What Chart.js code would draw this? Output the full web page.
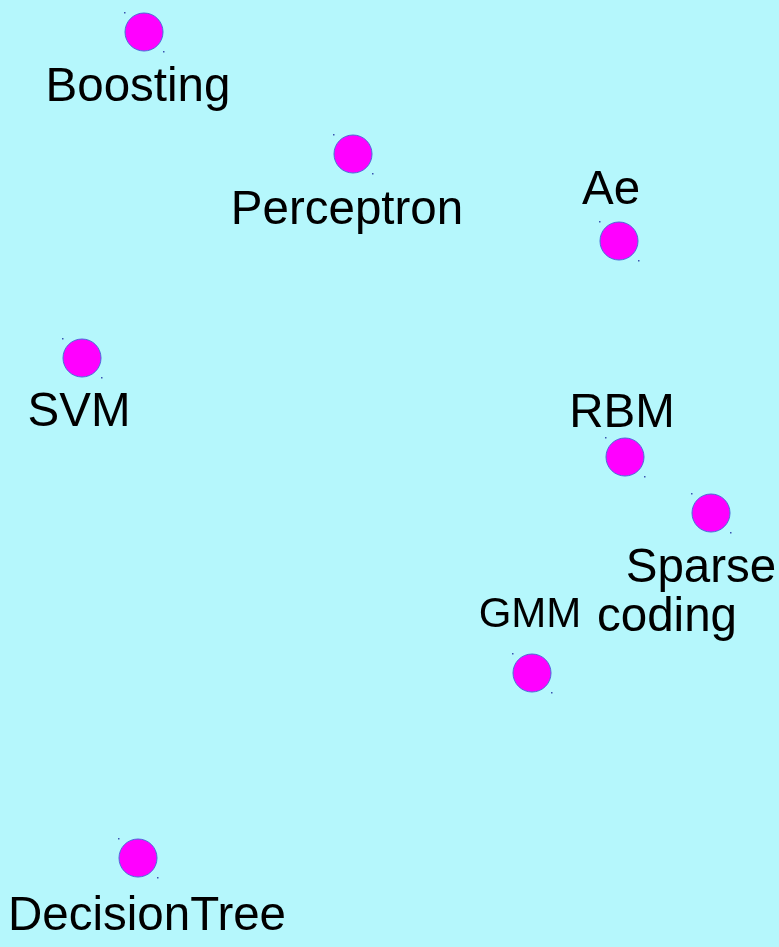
<!DOCTYPE html>
<html>
<head>
<meta charset="utf-8">
<script src="https://cdn.jsdelivr.net/npm/chart.js@4"></script>
<style>
  html, body { margin: 0; padding: 0; background: #b5f7fc; }
  #wrap { width: 779px; height: 947px; position: relative; }
</style>
</head>
<body>
<div id="wrap"><canvas id="scatterChart"></canvas></div>
<script>
// method names and their positions on the map
const methods = ["Boosting", "Perceptron", "Ae", "SVM", "RBM", "Sparse\ncoding", "GMM", "DecisionTree"];
const xValues = [144, 353, 619, 82, 625, 711, 532, 138];
const yValues = [32, 154, 241, 358, 457, 513, 673, 858];

// where each label sits relative to its dot (line dx, baseline dy)
const labelOffsets = [
    [-6, 69], [-6, 70], [-8, -37], [-3, 68], [-3, -30], [-10, 69], [-2, -46], [9, 72]
];
const labelSizes = [47.5, 47.5, 47.5, 47.5, 47.5, 47.5, 42, 47.5];

const points = xValues.map(function (x, i) {
    return { x: x, y: yValues[i] };
});

const labelPlugin = {
    id: "pointLabels",
    afterDatasetsDraw: function (chart) {
        const ctx = chart.ctx;
        const xs = chart.scales.x;
        const ys = chart.scales.y;
        ctx.save();
        ctx.textAlign = "center";
        ctx.textBaseline = "alphabetic";
        methods.forEach(function (name, i) {
            const cx = xs.getPixelForValue(xValues[i]);
            const cy = ys.getPixelForValue(yValues[i]);
            // little corner specks around each dot
            ctx.fillStyle = "#3a55b0";
            ctx.fillRect(cx - 20, cy - 20, 1.5, 1.5);
            ctx.fillRect(cx + 19, cy + 19, 1.5, 1.5);

            const px = cx + labelOffsets[i][0];
            const py = cy + labelOffsets[i][1];
            ctx.fillStyle = "#000000";
            ctx.font = labelSizes[i] + 'px "Liberation Sans", Arial, sans-serif';
            const lines = name.split("\n");
            lines.forEach(function (line, j) {
                let lx = px;
                if (j > 0) lx = px - 34;
                ctx.fillText(line, lx, py + j * 49);
            });
        });
        ctx.restore();
    }
};

new Chart(document.getElementById("scatterChart").getContext("2d"), {
    type: "scatter",
    data: {
        datasets: [{
            label: "methods",
            data: points,
            backgroundColor: "#ff00ff",
            borderColor: "#4a6ad8",
            borderWidth: 1,
            pointRadius: 19,
            pointHoverRadius: 19
        }]
    },
    options: {
        responsive: true,
        maintainAspectRatio: false,
        animation: false,
        layout: { padding: 0, autoPadding: false },
        plugins: {
            legend: { display: false },
            tooltip: { enabled: false }
        },
        scales: {
            x: { type: "linear", min: 0, max: 779, display: false },
            y: { type: "linear", min: 0, max: 947, reverse: true, display: false }
        }
    },
    plugins: [labelPlugin]
});
</script>
</body>
</html>
